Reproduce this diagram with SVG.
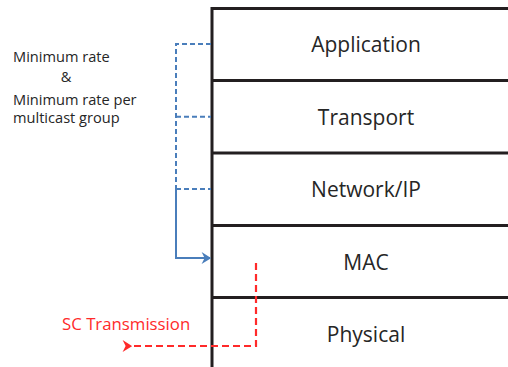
<svg xmlns="http://www.w3.org/2000/svg" width="508" height="367" viewBox="0 0 508 367">
  <style>
    .layer-line { stroke: #231f20; stroke-width: 3; fill: none; }
    .layer-label { font-family: "Open Sans", "Liberation Sans", sans-serif; font-size: 21px; fill: #262626; text-anchor: middle; }
    .note { font-family: "Open Sans", "Liberation Sans", sans-serif; font-size: 14.6px; fill: #262626; }
    .blue-dash { stroke: #4a7ebb; stroke-width: 2; fill: none; stroke-dasharray: 5 3; }
    .blue-solid { stroke: #4a7ebb; stroke-width: 2; fill: none; }
    .red-dash { stroke: #ff2a2a; stroke-width: 2.2; fill: none; stroke-dasharray: 7 4; }
    .red-label { font-family: "Open Sans", "Liberation Sans", sans-serif; font-size: 16.8px; fill: #ff2a2a; }
  </style>
  <defs>
    <marker id="blueArrow" viewBox="0 0 10 10" refX="9" refY="5" markerWidth="12" markerHeight="12" orient="auto" markerUnits="userSpaceOnUse">
      <path d="M2,0 L10,5 L2,10 L4.5,5 Z" fill="#4a7ebb"/>
    </marker>
    <marker id="redArrow" viewBox="0 0 10 10" refX="1" refY="5" markerWidth="12" markerHeight="12" orient="auto" markerUnits="userSpaceOnUse">
      <path d="M0,5 L8,0 L5.5,5 L8,10 Z" fill="#ff2a2a"/>
    </marker>
  </defs>

  <!-- protocol stack layers -->
  <g id="layer-application">
    <line class="layer-line" x1="212" y1="8.5" x2="508" y2="8.5"/>
    <text class="layer-label" x="366" y="52">Application</text>
  </g>
  <g id="layer-transport">
    <line class="layer-line" x1="212" y1="80.5" x2="508" y2="80.5"/>
    <text class="layer-label" x="366" y="125">Transport</text>
  </g>
  <g id="layer-network">
    <line class="layer-line" x1="212" y1="153" x2="508" y2="153"/>
    <text class="layer-label" x="366" y="197">Network/IP</text>
  </g>
  <g id="layer-mac">
    <line class="layer-line" x1="212" y1="225.5" x2="508" y2="225.5"/>
    <text class="layer-label" x="366" y="270">MAC</text>
  </g>
  <g id="layer-physical">
    <line class="layer-line" x1="212" y1="297.5" x2="508" y2="297.5"/>
    <text class="layer-label" x="366" y="342">Physical</text>
  </g>
  <g id="stack-edge">
    <line class="layer-line" x1="212" y1="7" x2="212" y2="367"/>
  </g>

  <!-- rate notes -->
  <g id="rate-note">
    <text class="note" x="13" y="62">Minimum rate</text>
    <text class="note" x="66" y="82" text-anchor="middle">&amp;</text>
    <text class="note" x="13" y="105">Minimum rate per</text>
    <text class="note" x="13" y="123">multicast group</text>
  </g>

  <g id="sc-label">
    <text class="red-label" x="62" y="330">SC Transmission</text>
  </g>

  <!-- connectors -->
  <g id="connectors">
    <path class="blue-dash" d="M211,44 H176 V189"/>
    <path class="blue-dash" d="M176,116.7 H211"/>
    <path class="blue-dash" d="M176,189 H211"/>
    <path class="blue-solid" d="M176,189 V258 H210" marker-end="url(#blueArrow)"/>
    <path class="red-dash" d="M256,263 V346 H131" marker-end="url(#redArrow)"/>
  </g>
</svg>
